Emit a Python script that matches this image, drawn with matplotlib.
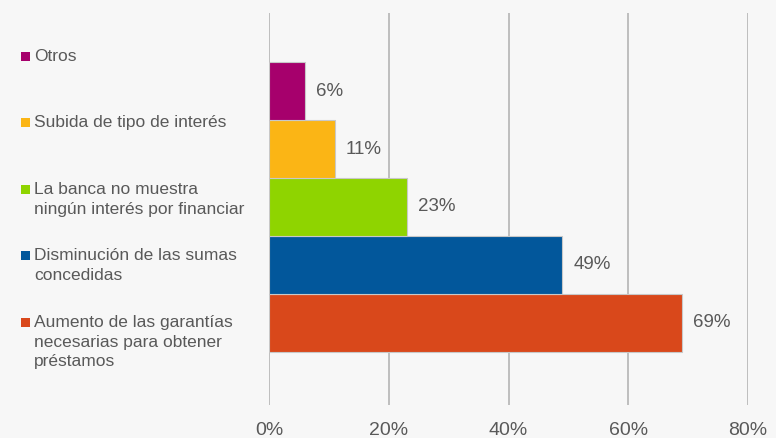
import matplotlib.pyplot as plt
from matplotlib.patches import Rectangle

plt.rcParams['font.family'] = ['Liberation Sans', 'DejaVu Sans']

# bottom to top, as drawn
categories = [
    'Aumento de las garantías\nnecesarias para obtener\npréstamos',
    'Disminución de las sumas\nconcedidas',
    'La banca no muestra\nningún interés por financiar',
    'Subida de tipo de interés',
    'Otros',
]
values = [69, 49, 23, 11, 6]
colors = ['#d9481b', '#02579b', '#8fd400', '#fbb515', '#a6006c']
x_ticks = [0, 20, 40, 60, 80]
x_tick_labels = ['0%', '20%', '40%', '60%', '80%']

text_color = '#595959'
bg = '#f7f7f7'

W, H = 776, 438
fig = plt.figure(figsize=(W / 100, H / 100), dpi=100, facecolor=bg)
ax = fig.add_axes([269 / W, 1 - 405 / H, (748 - 269) / W, (405 - 13) / H])
ax.set_facecolor(bg)

pos = list(range(len(values)))
ax.barh(pos, values, height=1.0, color=colors, edgecolor='#c8c8c8', linewidth=0.8, zorder=3)

for p, v in zip(pos, values):
    ax.annotate(f'{v}%', (v, p), xytext=(11, 0), textcoords='offset pixels',
                ha='left', va='center', fontsize=13.5, color=text_color)

ax.set_xlim(0, 80)
ax.set_ylim(-1.414, 5.345)
ax.set_xticks(x_ticks)
ax.set_xticklabels(x_tick_labels, fontsize=14, color=text_color)
ax.set_yticks([])
ax.tick_params(axis='x', length=0, pad=12)
ax.xaxis.grid(True, color='#b4b4b4', linewidth=1.2, zorder=0)
for s in ax.spines.values():
    s.set_visible(False)

# legend column on the left, top entry first
for i, (lab, col) in enumerate(zip(categories[::-1], colors[::-1])):
    yc = 56 + 66.5 * i
    fig.patches.append(Rectangle((21 / W, 1 - (yc + 4.5) / H), 9 / W, 9 / H,
                                 transform=fig.transFigure, facecolor=col, edgecolor='none'))
    fig.text(34 / W, 1 - (yc - 7) / H, lab, ha='left', va='top', fontsize=12.5,
             color=text_color, linespacing=1.38)

fig.savefig('out.png', dpi=100, facecolor=bg)
